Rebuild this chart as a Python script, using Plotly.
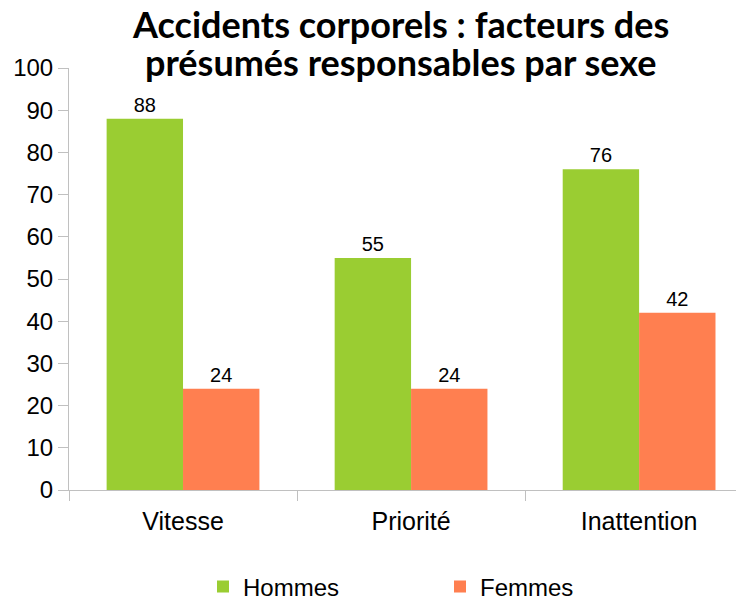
import plotly.graph_objects as go

categories = ["Vitesse", "Priorité", "Inattention"]
hommes = [88, 55, 76]
femmes = [24, 24, 42]
series_names = ["Hommes", "Femmes"]
title_lines = ["Accidents corporels : facteurs des", "présumés responsables par sexe"]

green = "#9ACD32"
orange = "#FF7F50"
axis_col = "#c0c0c0"

# page body has an 8px margin; layout numbers below are in figure pixels
L, T, PW, PH = 61, 60, 675, 422

fig = go.Figure()
for name, vals, col in [(series_names[0], hommes, green), (series_names[1], femmes, orange)]:
    fig.add_trace(go.Bar(
        x=categories, y=vals, name=name, marker=dict(color=col, line=dict(width=0)),
        text=[str(v) for v in vals], textposition="outside",
        textfont=dict(family="Liberation Sans", size=20, color="#000"),
        cliponaxis=False,
    ))

for line, ypx in zip(title_lines, [16, 54]):
    fig.add_annotation(
        text=line, xref="paper", yref="paper",
        x=(392 - L) / PW, y=(T + PH - ypx) / PH,
        xanchor="center", yanchor="middle", showarrow=False,
        font=dict(family="Lato", size=36, color="#000", weight="bold"),
    )

fig.update_layout(
    width=744, height=601,
    margin=dict(l=L, r=744 - L - PW, t=T, b=601 - T - PH, autoexpand=False),
    paper_bgcolor="white", plot_bgcolor="white",
    barmode="group", bargap=0.33, bargroupgap=0,
    font=dict(family="Liberation Sans", color="#000"),
    showlegend=True,
    legend=dict(orientation="h", xref="container", yref="container",
                x=195 / 744, xanchor="left", y=22 / 601, yanchor="middle",
                entrywidth=192, entrywidthmode="pixels",
                font=dict(family="Liberation Sans", size=24, color="#000")),
)
fig.update_xaxes(
    range=[-0.5, 2.46], showline=True, linecolor=axis_col, linewidth=1,
    ticks="outside", tickson="boundaries", ticklen=10, tickcolor=axis_col,
    ticklabelstandoff=9,
    tickfont=dict(family="Liberation Sans", size=25, color="#000"),
    showgrid=False, zeroline=False,
)
fig.update_yaxes(
    range=[0, 100], dtick=10, showline=True, linecolor=axis_col, linewidth=1,
    ticks="outside", ticklen=10, tickcolor=axis_col,
    tickfont=dict(family="Liberation Sans", size=24, color="#000"),
    showgrid=False, zeroline=False,
)

fig.write_html("out.html")
